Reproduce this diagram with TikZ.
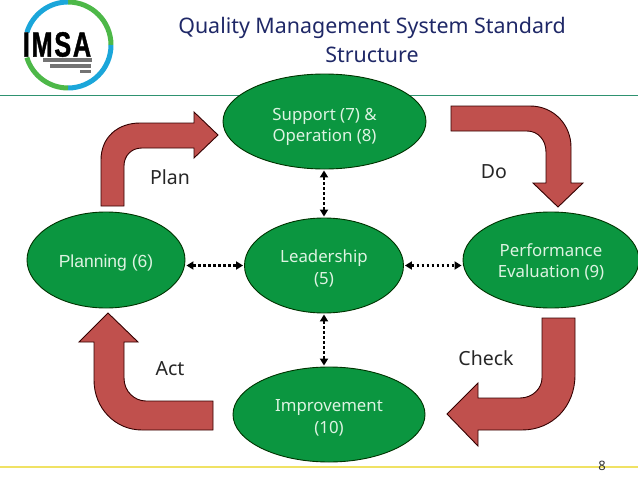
\documentclass[tikz,border=0pt]{standalone}
\usepackage{fontspec}
\setmainfont{Noto Sans}
\newfontfamily\logofont[FakeStretch=0.72,LetterSpace=5,FakeBold=1.2]{Liberation Sans}
\newfontfamily\planfont{Liberation Sans}
\usetikzlibrary{arrows.meta,shapes.geometric}
\definecolor{ovalgreen}{HTML}{0B9640}
\definecolor{ovaltext}{HTML}{DDF3E2}
\definecolor{arrowred}{HTML}{C0504D}
\definecolor{titleblue}{HTML}{1F2867}
\definecolor{rulegreen}{HTML}{2E9270}
\definecolor{ruleyellow}{HTML}{F0E264}
\definecolor{logoblue}{HTML}{1BA6DA}
\definecolor{logogreen}{HTML}{4DB848}
\newcommand{\ovalgap}[1]{\rule{0pt}{#1pt}}
\tikzset{
    oval/.style={ellipse, draw=black!80!green, line width=0.9pt, fill=ovalgreen, text=ovaltext,
        align=center, inner sep=0pt, font=\fontsize{16.8}{21.5}\selectfont},
    blockarrow/.style={draw=black!80!red, line width=0.9pt, fill=arrowred, line join=miter},
    dotarrow/.style={line width=2.5pt, dash pattern=on 2.5pt off 2.5pt, shorten <=1pt, shorten >=1pt,
        {Triangle[length=7pt,width=8pt]}-{Triangle[length=7pt,width=8pt]}},
    steplabel/.style={font=\fontsize{19.5}{22}\selectfont, text=black!85},
    logoarc/.style={line width=5pt},
}
\begin{document}
\begin{tikzpicture}[x=1pt,y=-1pt]
    \useasboundingbox (0,0) rectangle (638,479);

    % rules
    \coordinate (ruletopl) at (0,95);
    \coordinate (ruletopr) at (638,95);
    \coordinate (rulebotl) at (0,467);
    \coordinate (rulebotr) at (638,467);
    \draw[rulegreen, line width=1pt] (ruletopl) -- (ruletopr);
    \draw[ruleyellow, line width=1.2pt] (rulebotl) -- (rulebotr);

    % logo
    \draw[logoarc, logogreen] (68,2) arc[start angle=-90, end angle=0, radius=43];
    \draw[logoarc, logoblue] (111,45) arc[start angle=0, end angle=90, radius=43];
    \draw[logoarc, logogreen] (68,88) arc[start angle=90, end angle=163, radius=43];
    \draw[logoarc, logoblue] (26.9,32.4) arc[start angle=197, end angle=270, radius=43];
    \node[font=\logofont\bfseries\fontsize{35}{35}\selectfont, text=black, inner sep=0pt] (logotext) at (57,44.5) {IMSA};
    \fill[black!55] (43,58) rectangle (92,61.5);
    \fill[black!55] (50,64) rectangle (91,67.5);
    \fill[black!55] (80,69.5) rectangle (91,72.5);

    % title
    \node[align=center, text=titleblue, inner sep=0pt, font=\fontsize{21.4}{29}\selectfont] (title) at (372,39.5) {Quality Management System Standard\\Structure};

    % ovals
    \node[oval, minimum width=203pt, minimum height=95pt] (support) at (324.5,121.5) {\ovalgap{23}Support (7) \&\\Operation (8)};
    \node[oval, minimum width=159pt, minimum height=95pt] (leadership) at (324,265.5) {\ovalgap{19}Leadership\\(5)};
    \node[oval, minimum width=158pt, minimum height=96pt, font=\planfont\fontsize{17.5}{21}\selectfont] (planning) at (106,260) {\ovalgap{19}Planning (6)};
    \node[oval, minimum width=176pt, minimum height=96pt] (performance) at (551,260) {\ovalgap{17}Performance\\Evaluation (9)};
    \node[oval, minimum width=192pt, minimum height=95pt] (improvement) at (329,414.5) {\ovalgap{19}Improvement\\(10)};

    % dotted links
    \draw[dotarrow] (support.south -| leadership.north) -- (leadership.north);
    \draw[dotarrow] (leadership.south) -- (leadership.south |- improvement.north);
    \draw[dotarrow] (planning.east |- leadership.west) -- (leadership.west);
    \draw[dotarrow] (leadership.east) -- (performance.west |- leadership.east);

    % plan
    \draw[blockarrow] (101,206) -- (101,160) .. controls (101,137) and (118,123) .. (140,123)
        -- (194,123) -- (194,112) -- (218,135) -- (194,158) -- (194,148) -- (142,148)
        .. controls (131,148) and (124,156) .. (124,166) -- (124,206) -- cycle;
    % do
    \draw[blockarrow] (451,106) -- (530,106) .. controls (554,106) and (571,125) .. (571,147)
        -- (571,183) -- (583,183) -- (558,207) -- (533,183) -- (546,183) -- (546,152)
        .. controls (546,140) and (538,131) .. (527,131) -- (451,131) -- cycle;
    % check
    \draw[blockarrow] (542,318) -- (575,318) -- (575,375) .. controls (575,407) and (552,430) .. (522,430)
        -- (478,430) -- (478,446) -- (447,414) -- (478,383) -- (478,398) -- (520,398)
        .. controls (533,398) and (542,388) .. (542,378) -- cycle;
    % act
    \draw[blockarrow] (213,401) -- (213,430) -- (142,430) .. controls (115,430) and (94,408) .. (94,380)
        -- (94,342) -- (79,342) -- (108,313) -- (138,342) -- (124,342) -- (124,378)
        .. controls (124,392) and (135,401) .. (146,401) -- cycle;

    % labels
    \node[steplabel] (planlabel) at (170,177) {Plan};
    \node[steplabel] (dolabel) at (494,172) {Do};
    \node[steplabel] (checklabel) at (486,358) {Check};
    \node[steplabel] (actlabel) at (170,369) {Act};
    \node[font=\fontsize{13}{14}\selectfont, text=black!80, inner sep=0.5pt] (pagenum) at (602,465.5) {8};
\end{tikzpicture}
\end{document}
